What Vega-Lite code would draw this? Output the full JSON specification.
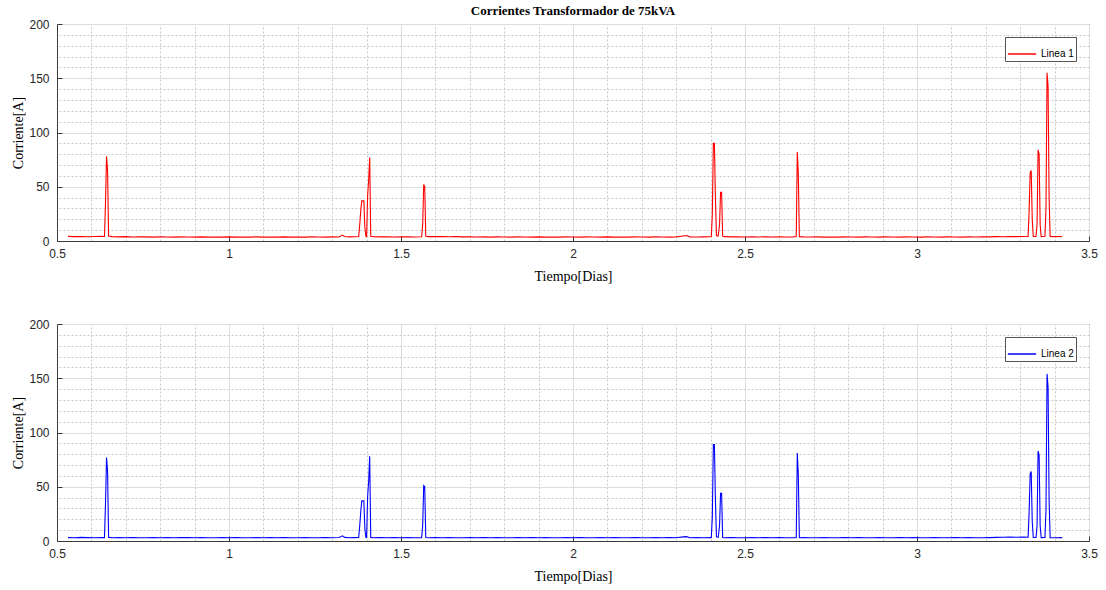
{
  "$schema": "https://vega.github.io/schema/vega-lite/v6.json",
  "background": "white",
  "padding": {"left": 11, "top": 4, "right": 8, "bottom": 5},
  "bounds": "flush",
  "spacing": 83,
  "config": {
    "view": {"stroke": "#3a3a3a", "strokeWidth": 1},
    "axis": {
      "labelFont": "Liberation Sans", "labelFontSize": 12, "labelColor": "#262626",
      "titleFont": "Liberation Serif", "titleFontSize": 14, "titleFontWeight": "normal", "titleColor": "#000000",
      "domainColor": "#3a3a3a", "tickColor": "#3a3a3a"
    }
  },
  "datasets": {
    "corr": [
      {"t": 0.532, "Linea 1": 4.3, "Linea 2": 3.1},
      {"t": 0.55, "Linea 1": 4.0, "Linea 2": 3.0},
      {"t": 0.57, "Linea 1": 4.2, "Linea 2": 3.3},
      {"t": 0.59, "Linea 1": 3.9, "Linea 2": 3.1},
      {"t": 0.61, "Linea 1": 4.1, "Linea 2": 3.0},
      {"t": 0.63, "Linea 1": 4.3, "Linea 2": 3.2},
      {"t": 0.638, "Linea 1": 4.2, "Linea 2": 3.1},
      {"t": 0.641, "Linea 1": 35, "Linea 2": 34},
      {"t": 0.644, "Linea 1": 78, "Linea 2": 77},
      {"t": 0.647, "Linea 1": 65, "Linea 2": 64},
      {"t": 0.650, "Linea 1": 4.5, "Linea 2": 3.3},
      {"t": 0.66, "Linea 1": 4.0, "Linea 2": 3.0},
      {"t": 0.68, "Linea 1": 3.8, "Linea 2": 3.2},
      {"t": 0.70, "Linea 1": 4.0, "Linea 2": 3.0},
      {"t": 0.72, "Linea 1": 3.7, "Linea 2": 3.1},
      {"t": 0.74, "Linea 1": 3.9, "Linea 2": 3.0},
      {"t": 0.76, "Linea 1": 3.8, "Linea 2": 3.0},
      {"t": 0.78, "Linea 1": 3.6, "Linea 2": 3.1},
      {"t": 0.80, "Linea 1": 3.8, "Linea 2": 3.0},
      {"t": 0.82, "Linea 1": 3.7, "Linea 2": 3.2},
      {"t": 0.84, "Linea 1": 3.6, "Linea 2": 3.0},
      {"t": 0.86, "Linea 1": 3.8, "Linea 2": 3.1},
      {"t": 0.88, "Linea 1": 3.7, "Linea 2": 3.2},
      {"t": 0.90, "Linea 1": 3.6, "Linea 2": 3.0},
      {"t": 0.92, "Linea 1": 3.8, "Linea 2": 3.1},
      {"t": 0.94, "Linea 1": 3.6, "Linea 2": 3.0},
      {"t": 0.96, "Linea 1": 3.7, "Linea 2": 3.0},
      {"t": 0.98, "Linea 1": 3.6, "Linea 2": 3.1},
      {"t": 1.00, "Linea 1": 3.8, "Linea 2": 3.0},
      {"t": 1.02, "Linea 1": 3.6, "Linea 2": 3.1},
      {"t": 1.04, "Linea 1": 3.7, "Linea 2": 3.0},
      {"t": 1.06, "Linea 1": 3.6, "Linea 2": 3.0},
      {"t": 1.08, "Linea 1": 3.8, "Linea 2": 3.1},
      {"t": 1.10, "Linea 1": 3.6, "Linea 2": 3.0},
      {"t": 1.12, "Linea 1": 3.7, "Linea 2": 3.2},
      {"t": 1.14, "Linea 1": 3.6, "Linea 2": 3.0},
      {"t": 1.16, "Linea 1": 3.8, "Linea 2": 3.1},
      {"t": 1.18, "Linea 1": 3.6, "Linea 2": 3.0},
      {"t": 1.20, "Linea 1": 3.7, "Linea 2": 3.0},
      {"t": 1.22, "Linea 1": 3.6, "Linea 2": 3.1},
      {"t": 1.24, "Linea 1": 3.8, "Linea 2": 3.0},
      {"t": 1.26, "Linea 1": 3.7, "Linea 2": 3.0},
      {"t": 1.28, "Linea 1": 3.6, "Linea 2": 3.1},
      {"t": 1.30, "Linea 1": 3.8, "Linea 2": 3.0},
      {"t": 1.32, "Linea 1": 3.7, "Linea 2": 3.2},
      {"t": 1.330, "Linea 1": 5.5, "Linea 2": 4.8},
      {"t": 1.336, "Linea 1": 4.2, "Linea 2": 3.3},
      {"t": 1.35, "Linea 1": 3.8, "Linea 2": 3.0},
      {"t": 1.365, "Linea 1": 3.9, "Linea 2": 3.1},
      {"t": 1.377, "Linea 1": 4.2, "Linea 2": 3.2},
      {"t": 1.380, "Linea 1": 15, "Linea 2": 14},
      {"t": 1.383, "Linea 1": 28, "Linea 2": 27},
      {"t": 1.386, "Linea 1": 37, "Linea 2": 37},
      {"t": 1.392, "Linea 1": 37, "Linea 2": 37},
      {"t": 1.395, "Linea 1": 12, "Linea 2": 11},
      {"t": 1.398, "Linea 1": 4.2, "Linea 2": 3.2},
      {"t": 1.400, "Linea 1": 4.0, "Linea 2": 3.1},
      {"t": 1.403, "Linea 1": 42, "Linea 2": 41},
      {"t": 1.406, "Linea 1": 56, "Linea 2": 55},
      {"t": 1.409, "Linea 1": 77, "Linea 2": 78},
      {"t": 1.412, "Linea 1": 4.3, "Linea 2": 3.3},
      {"t": 1.42, "Linea 1": 4.0, "Linea 2": 3.0},
      {"t": 1.44, "Linea 1": 3.8, "Linea 2": 3.1},
      {"t": 1.46, "Linea 1": 3.9, "Linea 2": 3.0},
      {"t": 1.48, "Linea 1": 3.7, "Linea 2": 3.2},
      {"t": 1.50, "Linea 1": 3.8, "Linea 2": 3.0},
      {"t": 1.52, "Linea 1": 3.9, "Linea 2": 3.1},
      {"t": 1.54, "Linea 1": 3.7, "Linea 2": 3.0},
      {"t": 1.56, "Linea 1": 3.9, "Linea 2": 3.1},
      {"t": 1.563, "Linea 1": 15, "Linea 2": 14},
      {"t": 1.566, "Linea 1": 52, "Linea 2": 51},
      {"t": 1.569, "Linea 1": 50, "Linea 2": 50},
      {"t": 1.572, "Linea 1": 4.3, "Linea 2": 3.2},
      {"t": 1.58, "Linea 1": 4.0, "Linea 2": 3.0},
      {"t": 1.60, "Linea 1": 4.2, "Linea 2": 3.1},
      {"t": 1.62, "Linea 1": 4.0, "Linea 2": 3.0},
      {"t": 1.64, "Linea 1": 3.9, "Linea 2": 3.1},
      {"t": 1.66, "Linea 1": 4.0, "Linea 2": 3.0},
      {"t": 1.68, "Linea 1": 3.8, "Linea 2": 3.0},
      {"t": 1.70, "Linea 1": 3.9, "Linea 2": 3.1},
      {"t": 1.72, "Linea 1": 3.7, "Linea 2": 3.0},
      {"t": 1.74, "Linea 1": 3.8, "Linea 2": 3.2},
      {"t": 1.76, "Linea 1": 3.6, "Linea 2": 3.0},
      {"t": 1.78, "Linea 1": 3.8, "Linea 2": 3.1},
      {"t": 1.80, "Linea 1": 3.7, "Linea 2": 3.0},
      {"t": 1.82, "Linea 1": 3.6, "Linea 2": 3.0},
      {"t": 1.84, "Linea 1": 3.8, "Linea 2": 3.1},
      {"t": 1.86, "Linea 1": 3.7, "Linea 2": 3.0},
      {"t": 1.88, "Linea 1": 3.6, "Linea 2": 3.2},
      {"t": 1.90, "Linea 1": 3.8, "Linea 2": 3.0},
      {"t": 1.92, "Linea 1": 3.6, "Linea 2": 3.1},
      {"t": 1.94, "Linea 1": 3.7, "Linea 2": 3.0},
      {"t": 1.96, "Linea 1": 3.6, "Linea 2": 3.0},
      {"t": 1.98, "Linea 1": 3.8, "Linea 2": 3.1},
      {"t": 2.00, "Linea 1": 3.7, "Linea 2": 3.0},
      {"t": 2.02, "Linea 1": 3.6, "Linea 2": 3.1},
      {"t": 2.04, "Linea 1": 3.8, "Linea 2": 3.0},
      {"t": 2.06, "Linea 1": 3.7, "Linea 2": 3.0},
      {"t": 2.08, "Linea 1": 3.6, "Linea 2": 3.2},
      {"t": 2.10, "Linea 1": 3.8, "Linea 2": 3.0},
      {"t": 2.12, "Linea 1": 3.6, "Linea 2": 3.1},
      {"t": 2.14, "Linea 1": 3.7, "Linea 2": 3.0},
      {"t": 2.16, "Linea 1": 3.6, "Linea 2": 3.0},
      {"t": 2.18, "Linea 1": 3.8, "Linea 2": 3.1},
      {"t": 2.20, "Linea 1": 3.7, "Linea 2": 3.0},
      {"t": 2.22, "Linea 1": 3.6, "Linea 2": 3.0},
      {"t": 2.24, "Linea 1": 3.8, "Linea 2": 3.1},
      {"t": 2.26, "Linea 1": 3.7, "Linea 2": 3.0},
      {"t": 2.28, "Linea 1": 3.6, "Linea 2": 3.2},
      {"t": 2.30, "Linea 1": 3.8, "Linea 2": 3.0},
      {"t": 2.32, "Linea 1": 4.6, "Linea 2": 3.8},
      {"t": 2.33, "Linea 1": 5.0, "Linea 2": 4.0},
      {"t": 2.34, "Linea 1": 3.8, "Linea 2": 3.0},
      {"t": 2.36, "Linea 1": 3.7, "Linea 2": 3.1},
      {"t": 2.38, "Linea 1": 3.8, "Linea 2": 3.0},
      {"t": 2.40, "Linea 1": 3.9, "Linea 2": 3.1},
      {"t": 2.402, "Linea 1": 4.2, "Linea 2": 3.1},
      {"t": 2.405, "Linea 1": 24, "Linea 2": 22},
      {"t": 2.408, "Linea 1": 90, "Linea 2": 89},
      {"t": 2.411, "Linea 1": 90, "Linea 2": 89},
      {"t": 2.414, "Linea 1": 40, "Linea 2": 38},
      {"t": 2.417, "Linea 1": 5, "Linea 2": 4},
      {"t": 2.422, "Linea 1": 4.5, "Linea 2": 3.3},
      {"t": 2.426, "Linea 1": 15, "Linea 2": 14},
      {"t": 2.429, "Linea 1": 45, "Linea 2": 44},
      {"t": 2.432, "Linea 1": 45, "Linea 2": 44},
      {"t": 2.435, "Linea 1": 4.5, "Linea 2": 3.3},
      {"t": 2.44, "Linea 1": 4.0, "Linea 2": 3.0},
      {"t": 2.46, "Linea 1": 3.8, "Linea 2": 3.1},
      {"t": 2.48, "Linea 1": 3.9, "Linea 2": 3.0},
      {"t": 2.50, "Linea 1": 3.7, "Linea 2": 3.0},
      {"t": 2.52, "Linea 1": 3.8, "Linea 2": 3.1},
      {"t": 2.54, "Linea 1": 3.7, "Linea 2": 3.0},
      {"t": 2.56, "Linea 1": 3.9, "Linea 2": 3.2},
      {"t": 2.58, "Linea 1": 3.7, "Linea 2": 3.0},
      {"t": 2.60, "Linea 1": 3.8, "Linea 2": 3.1},
      {"t": 2.62, "Linea 1": 3.7, "Linea 2": 3.0},
      {"t": 2.64, "Linea 1": 3.8, "Linea 2": 3.0},
      {"t": 2.649, "Linea 1": 4.1, "Linea 2": 3.0},
      {"t": 2.652, "Linea 1": 82, "Linea 2": 81},
      {"t": 2.655, "Linea 1": 62, "Linea 2": 61},
      {"t": 2.658, "Linea 1": 4.0, "Linea 2": 3.0},
      {"t": 2.67, "Linea 1": 3.8, "Linea 2": 3.1},
      {"t": 2.69, "Linea 1": 3.7, "Linea 2": 3.0},
      {"t": 2.71, "Linea 1": 3.8, "Linea 2": 3.0},
      {"t": 2.73, "Linea 1": 3.6, "Linea 2": 3.1},
      {"t": 2.75, "Linea 1": 3.7, "Linea 2": 3.0},
      {"t": 2.77, "Linea 1": 3.6, "Linea 2": 3.0},
      {"t": 2.79, "Linea 1": 3.8, "Linea 2": 3.2},
      {"t": 2.81, "Linea 1": 3.7, "Linea 2": 3.0},
      {"t": 2.83, "Linea 1": 3.6, "Linea 2": 3.1},
      {"t": 2.85, "Linea 1": 3.8, "Linea 2": 3.0},
      {"t": 2.87, "Linea 1": 3.7, "Linea 2": 3.0},
      {"t": 2.89, "Linea 1": 3.6, "Linea 2": 3.1},
      {"t": 2.91, "Linea 1": 3.8, "Linea 2": 3.0},
      {"t": 2.93, "Linea 1": 3.7, "Linea 2": 3.0},
      {"t": 2.95, "Linea 1": 3.6, "Linea 2": 3.2},
      {"t": 2.97, "Linea 1": 3.8, "Linea 2": 3.0},
      {"t": 2.99, "Linea 1": 3.7, "Linea 2": 3.1},
      {"t": 3.01, "Linea 1": 3.6, "Linea 2": 3.0},
      {"t": 3.03, "Linea 1": 3.8, "Linea 2": 3.0},
      {"t": 3.05, "Linea 1": 3.7, "Linea 2": 3.1},
      {"t": 3.07, "Linea 1": 3.6, "Linea 2": 3.0},
      {"t": 3.09, "Linea 1": 3.8, "Linea 2": 3.0},
      {"t": 3.11, "Linea 1": 3.7, "Linea 2": 3.2},
      {"t": 3.13, "Linea 1": 3.6, "Linea 2": 3.0},
      {"t": 3.15, "Linea 1": 3.8, "Linea 2": 3.1},
      {"t": 3.17, "Linea 1": 3.7, "Linea 2": 3.0},
      {"t": 3.19, "Linea 1": 3.9, "Linea 2": 3.0},
      {"t": 3.21, "Linea 1": 3.8, "Linea 2": 3.1},
      {"t": 3.23, "Linea 1": 4.0, "Linea 2": 3.3},
      {"t": 3.25, "Linea 1": 3.9, "Linea 2": 3.4},
      {"t": 3.27, "Linea 1": 4.1, "Linea 2": 3.6},
      {"t": 3.29, "Linea 1": 4.0, "Linea 2": 3.5},
      {"t": 3.31, "Linea 1": 4.2, "Linea 2": 3.6},
      {"t": 3.323, "Linea 1": 4.2, "Linea 2": 3.5},
      {"t": 3.326, "Linea 1": 28, "Linea 2": 27},
      {"t": 3.329, "Linea 1": 63, "Linea 2": 62},
      {"t": 3.332, "Linea 1": 65, "Linea 2": 64},
      {"t": 3.335, "Linea 1": 20, "Linea 2": 18},
      {"t": 3.338, "Linea 1": 4.1, "Linea 2": 3.2},
      {"t": 3.346, "Linea 1": 4.2, "Linea 2": 3.2},
      {"t": 3.349, "Linea 1": 15, "Linea 2": 14},
      {"t": 3.352, "Linea 1": 84, "Linea 2": 83},
      {"t": 3.355, "Linea 1": 80, "Linea 2": 79},
      {"t": 3.358, "Linea 1": 15, "Linea 2": 14},
      {"t": 3.361, "Linea 1": 4.1, "Linea 2": 3.1},
      {"t": 3.372, "Linea 1": 4.3, "Linea 2": 3.2},
      {"t": 3.375, "Linea 1": 30, "Linea 2": 29},
      {"t": 3.378, "Linea 1": 155, "Linea 2": 154},
      {"t": 3.381, "Linea 1": 143, "Linea 2": 142},
      {"t": 3.384, "Linea 1": 40, "Linea 2": 38},
      {"t": 3.387, "Linea 1": 4.2, "Linea 2": 3.1},
      {"t": 3.40, "Linea 1": 4.0, "Linea 2": 3.0},
      {"t": 3.422, "Linea 1": 4.1, "Linea 2": 3.1}
    ]
  },
  "vconcat": [
    {
      "width": 1032,
      "height": 217,
      "title": {"text": "Corrientes Transformador de 75kVA", "font": "Liberation Serif", "fontSize": 13, "fontWeight": "bold", "color": "#000000", "anchor": "middle", "offset": 0},
      "data": {"name": "corr"},
      "transform": [{"fold": ["Linea 1"], "as": ["serie", "valor"]}],
      "layer": [
        {
          "mark": {"type": "line", "opacity": 0},
          "encoding": {
            "x": {"field": "t", "type": "quantitative", "scale": {"domain": [0.5, 3.5], "nice": false, "zero": false},
              "axis": {"orient": "top", "values": [0.6,0.7,0.8,0.9,1.1,1.2,1.3,1.4,1.6,1.7,1.8,1.9,2.1,2.2,2.3,2.4,2.6,2.7,2.8,2.9,3.1,3.2,3.3,3.4], "grid": true, "gridDash": [2,2], "gridColor": "#bdbdbd", "gridOpacity": 0.8, "labels": false, "ticks": false, "domain": false, "title": null}},
            "y": {"field": "valor", "type": "quantitative", "scale": {"domain": [0, 200], "nice": false},
              "axis": {"orient": "right", "values": [10,20,30,40,60,70,80,90,110,120,130,140,160,170,180,190], "grid": true, "gridDash": [2,2], "gridColor": "#bdbdbd", "gridOpacity": 0.8, "labels": false, "ticks": false, "domain": false, "title": null}}
          }
        },
        {
          "mark": {"type": "line", "strokeWidth": 1.1},
          "encoding": {
            "x": {"field": "t", "type": "quantitative", "scale": {"domain": [0.5, 3.5], "nice": false, "zero": false},
              "axis": {"orient": "bottom", "values": [0.5,1,1.5,2,2.5,3,3.5], "format": "~g", "grid": true, "gridColor": "#dddddd", "gridOpacity": 1, "tickSize": -5, "labelPadding": 12, "title": "Tiempo[Dias]", "titlePadding": 10, "labelFlush": false}},
            "y": {"field": "valor", "type": "quantitative", "scale": {"domain": [0, 200], "nice": false},
              "axis": {"orient": "left", "values": [0,50,100,150,200], "grid": true, "gridColor": "#dddddd", "gridOpacity": 1, "tickSize": -5, "labelPadding": 13, "title": "Corriente[A]", "titlePadding": 3}},
            "color": {"field": "serie", "type": "nominal", "scale": {"domain": ["Linea 1"], "range": ["#ff0000"]},
              "legend": {"title": null, "orient": "top-right", "offset": 13, "fillColor": "white", "strokeColor": "#555555", "padding": 2, "symbolType": "stroke", "symbolSize": 800, "symbolStrokeWidth": 1.5, "labelFont": "Liberation Sans", "labelFontSize": 10, "labelColor": "#000000"}}
          }
        }
      ],
      "resolve": {"axis": {"x": "independent", "y": "independent"}}
    },
    {
      "width": 1032,
      "height": 217,
      "data": {"name": "corr"},
      "transform": [{"fold": ["Linea 2"], "as": ["serie", "valor"]}],
      "layer": [
        {
          "mark": {"type": "line", "opacity": 0},
          "encoding": {
            "x": {"field": "t", "type": "quantitative", "scale": {"domain": [0.5, 3.5], "nice": false, "zero": false},
              "axis": {"orient": "top", "values": [0.6,0.7,0.8,0.9,1.1,1.2,1.3,1.4,1.6,1.7,1.8,1.9,2.1,2.2,2.3,2.4,2.6,2.7,2.8,2.9,3.1,3.2,3.3,3.4], "grid": true, "gridDash": [2,2], "gridColor": "#bdbdbd", "gridOpacity": 0.8, "labels": false, "ticks": false, "domain": false, "title": null}},
            "y": {"field": "valor", "type": "quantitative", "scale": {"domain": [0, 200], "nice": false},
              "axis": {"orient": "right", "values": [10,20,30,40,60,70,80,90,110,120,130,140,160,170,180,190], "grid": true, "gridDash": [2,2], "gridColor": "#bdbdbd", "gridOpacity": 0.8, "labels": false, "ticks": false, "domain": false, "title": null}}
          }
        },
        {
          "mark": {"type": "line", "strokeWidth": 1.1},
          "encoding": {
            "x": {"field": "t", "type": "quantitative", "scale": {"domain": [0.5, 3.5], "nice": false, "zero": false},
              "axis": {"orient": "bottom", "values": [0.5,1,1.5,2,2.5,3,3.5], "format": "~g", "grid": true, "gridColor": "#dddddd", "gridOpacity": 1, "tickSize": -5, "labelPadding": 12, "title": "Tiempo[Dias]", "titlePadding": 10, "labelFlush": false}},
            "y": {"field": "valor", "type": "quantitative", "scale": {"domain": [0, 200], "nice": false},
              "axis": {"orient": "left", "values": [0,50,100,150,200], "grid": true, "gridColor": "#dddddd", "gridOpacity": 1, "tickSize": -5, "labelPadding": 13, "title": "Corriente[A]", "titlePadding": 3}},
            "color": {"field": "serie", "type": "nominal", "scale": {"domain": ["Linea 2"], "range": ["#0000ff"]},
              "legend": {"title": null, "orient": "top-right", "offset": 13, "fillColor": "white", "strokeColor": "#555555", "padding": 2, "symbolType": "stroke", "symbolSize": 800, "symbolStrokeWidth": 1.5, "labelFont": "Liberation Sans", "labelFontSize": 10, "labelColor": "#000000"}}
          }
        }
      ],
      "resolve": {"axis": {"x": "independent", "y": "independent"}}
    }
  ],
  "resolve": {"scale": {"color": "independent"}}
}
